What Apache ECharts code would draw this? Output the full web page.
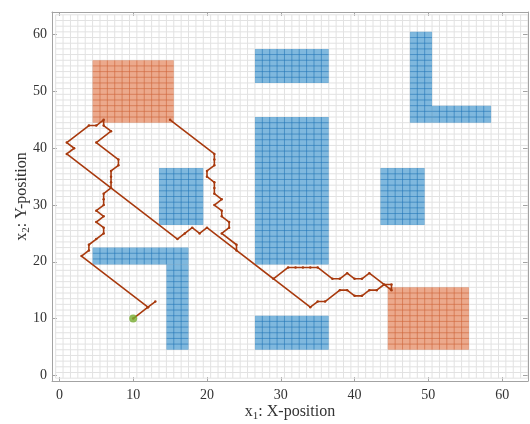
<!DOCTYPE html>
<html><head><meta charset="utf-8">
<script src="https://cdn.jsdelivr.net/npm/echarts@6/dist/echarts.min.js"></script>
<style>html,body{margin:0;padding:0;background:#fff}#c{width:530px;height:424px}</style>
</head><body><div id="c"></div>
<script>
// ---- data ----
const xTicks = [0, 10, 20, 30, 40, 50, 60];
const yTicks = [0, 10, 20, 30, 40, 50, 60];
// obstacles (blue): [xFirstCell, xLastCell, yFirstCell, yLastCell]
const obstacles = [
  [27, 36, 52, 57],
  [27, 36, 20, 45],
  [27, 36, 5, 10],
  [48, 50, 45, 60],
  [51, 58, 45, 47],
  [44, 49, 27, 36],
  [14, 19, 27, 36],
  [5, 17, 20, 22],
  [15, 17, 5, 19]
];
// goal regions (orange)
const regions = [
  [5, 15, 45, 55],
  [45, 55, 5, 15]
];
const startPoint = [[10, 10]];
const trajectory = [
  [10,10],[12,12],[13,13],[12,12],[3,21],[4,22],[4,23],[5,24],[6,25],[6,26],[5,27],[6,28],[5,29],[6,30],[6,31],[6,32],
  [7,33],[7,34],[7,35],[7,36],[8,37],[8,38],[5,41],[7,43],[6,44],[6,45],[5,44],[4,44],[1,41],[2,40],[1,39],
  [16,24],[17,25],[18,26],[19,25],[20,26],[34,12],[35,13],[36,13],[38,15],[39,15],[40,14],[41,14],[42,15],[43,15],
  [44,16],[45,16],[45,15],[42,18],[41,17],[40,17],[39,18],[38,17],[37,17],[35,19],[34,19],[33,19],[32,19],[31,19],
  [29,17],[24,22],[24,23],[22,25],[23,26],[23,27],[22,28],[22,29],[21,30],[22,31],[21,32],[21,33],[21,34],[20,35],
  [20,36],[21,37],[21,38],[21,39],[15,45]
];

// ---- config ----
const AX_MIN = -1, X_MAX = 63.5, Y_MAX = 64;
const GRID_LO = -0.5, GRID_HI = 63.5;
const FONT = 'Liberation Serif';
const AXIS_COLOR = '#a3a3a3';
const TEXT_COLOR = '#333333';

const chart = echarts.init(document.getElementById('c'), null, {renderer: 'canvas'});

function renderGrid(params, api) {
  const children = [];
  const lo = api.coord([GRID_LO, GRID_LO]);
  const hi = api.coord([GRID_HI, GRID_HI]);
  for (let v = GRID_LO; v <= GRID_HI + 1e-9; v += 1) {
    const px = api.coord([v, 0])[0];
    children.push({type: 'line', shape: {x1: px, y1: lo[1], x2: px, y2: hi[1]},
      style: {stroke: '#e2e2e2', lineWidth: 1}});
    const py = api.coord([0, v])[1];
    children.push({type: 'line', shape: {x1: lo[0], y1: py, x2: hi[0], y2: py},
      style: {stroke: '#e2e2e2', lineWidth: 1}});
  }
  return {type: 'group', children};
}

function makeCells(fill, edge) {
  return function (params, api) {
    const x0 = api.value(0), x1 = api.value(1), y0 = api.value(2), y1 = api.value(3);
    const a = api.coord([x0 - 0.5, y1 + 0.5]);
    const b = api.coord([x1 + 0.5, y0 - 0.5]);
    const children = [{type: 'rect', shape: {x: a[0], y: a[1], width: b[0] - a[0], height: b[1] - a[1]},
      style: {fill: fill}}];
    for (let x = x0 + 0.5; x < x1 + 0.5; x += 1) {
      const px = api.coord([x, 0])[0];
      children.push({type: 'line', shape: {x1: px, y1: a[1], x2: px, y2: b[1]}, style: {stroke: edge, lineWidth: 1}});
    }
    for (let y = y0 + 0.5; y < y1 + 0.5; y += 1) {
      const py = api.coord([0, y])[1];
      children.push({type: 'line', shape: {x1: a[0], y1: py, x2: b[0], y2: py}, style: {stroke: edge, lineWidth: 1}});
    }
    return {type: 'group', children};
  };
}

const tickCommon = {show: true, inside: true, length: 4, lineStyle: {color: AXIS_COLOR}};
const lineCommon = {show: true, onZero: false, lineStyle: {color: AXIS_COLOR, width: 1}};
const richName = {
  n: {fontFamily: FONT, fontSize: 16, color: TEXT_COLOR, lineHeight: 20, verticalAlign: 'middle'},
  s: {fontFamily: FONT, fontSize: 11, color: TEXT_COLOR, lineHeight: 12, verticalAlign: 'bottom'}
};

const option = {
  animation: false,
  backgroundColor: '#ffffff',
  grid: {left: 52, right: 2, top: 12, bottom: 43, containLabel: false, outerBoundsMode: 'none'},
  xAxis: [
    {type: 'value', min: AX_MIN, max: X_MAX, position: 'bottom',
     axisLine: lineCommon,
     axisTick: Object.assign({customValues: xTicks}, tickCommon),
     axisLabel: {customValues: xTicks, fontFamily: FONT, fontSize: 14, color: TEXT_COLOR, margin: 7},
     splitLine: {show: false},
     name: '{n|x}{s|1}{n|: X-position}', nameLocation: 'middle', nameGap: 21, nameMoveOverlap: false,
     nameTextStyle: {rich: richName}},
    {type: 'value', min: AX_MIN, max: X_MAX, position: 'top',
     axisLine: lineCommon,
     axisTick: Object.assign({customValues: xTicks}, tickCommon),
     axisLabel: {show: false}, splitLine: {show: false}}
  ],
  yAxis: [
    {type: 'value', min: AX_MIN, max: Y_MAX, position: 'left',
     axisLine: lineCommon,
     axisTick: Object.assign({customValues: yTicks}, tickCommon, {length: 5}),
     axisLabel: {customValues: yTicks, fontFamily: FONT, fontSize: 14, color: TEXT_COLOR, margin: 5},
     splitLine: {show: false},
     name: '{n|x}{s|2}{n|: Y-position}', nameLocation: 'middle', nameGap: 20, nameRotate: 90, nameMoveOverlap: false,
     nameTextStyle: {rich: richName}},
    {type: 'value', min: AX_MIN, max: Y_MAX, position: 'right',
     axisLine: lineCommon,
     axisTick: Object.assign({customValues: yTicks}, tickCommon, {length: 5}),
     axisLabel: {show: false}, splitLine: {show: false}}
  ],
  series: [
    {type: 'custom', name: 'grid', renderItem: renderGrid, data: [[0, 0]], silent: true, z: 1, clip: true},
    {type: 'custom', name: 'obstacles', renderItem: makeCells('rgba(0,114,189,0.5)', 'rgba(0,100,180,0.35)'),
     data: obstacles, encode: {x: [0, 1], y: [2, 3]}, z: 2},
    {type: 'custom', name: 'regions', renderItem: makeCells('rgba(217,83,25,0.5)', 'rgba(210,80,30,0.35)'),
     data: regions, encode: {x: [0, 1], y: [2, 3]}, z: 2},
    {type: 'line', name: 'trajectory', data: trajectory, z: 3,
     lineStyle: {color: '#a83a0e', width: 1.6},
     symbol: 'circle', symbolSize: 2.5, showSymbol: true,
     itemStyle: {color: '#a83a0e'}},
    {type: 'scatter', name: 'start', data: startPoint, z: 4, symbolSize: 8,
     itemStyle: {color: '#77ac30'}}
  ]
};
chart.setOption(option);
</script>
</body></html>
